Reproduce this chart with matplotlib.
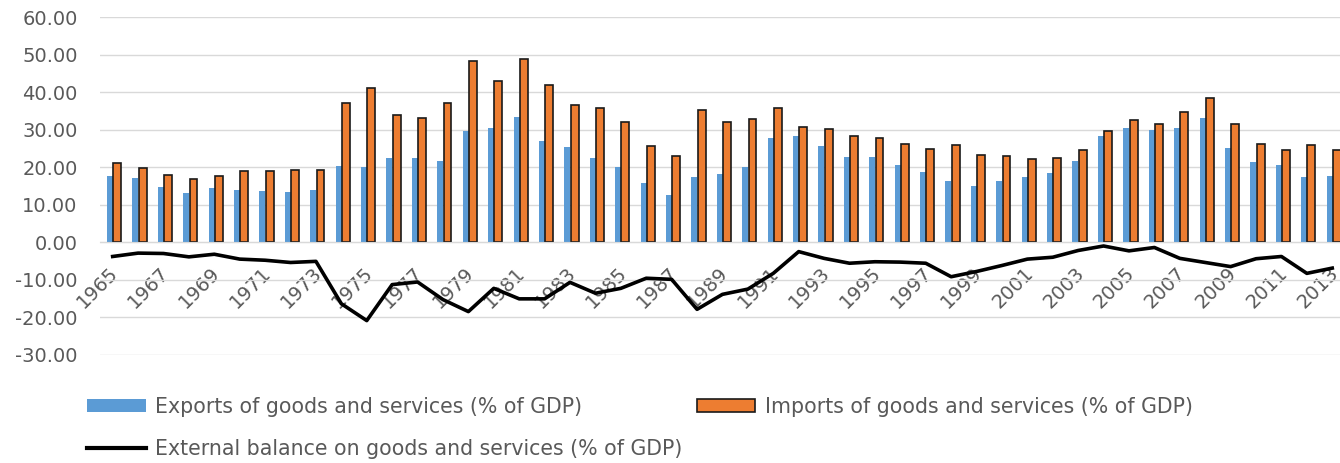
import numpy as np
from matplotlib import pyplot as plt
from matplotlib.patches import Patch
from matplotlib.lines import Line2D

years = list(range(1965, 2014))

exports = [17.8, 17.1, 14.8, 13.1, 14.4, 14.0, 13.7, 13.4, 14.0, 20.4,
           20.1, 22.4, 22.4, 21.8, 29.8, 30.4, 33.3, 27.0, 25.4, 22.4,
           20.1, 15.7, 12.7, 17.4, 18.1, 20.1, 27.7, 28.4, 25.7, 22.8,
           22.8, 20.7, 18.8, 16.4, 15.1, 16.4, 17.4, 18.4, 21.7, 28.4,
           30.4, 30.0, 30.4, 33.1, 25.1, 21.4, 20.7, 17.4, 17.8]

imports = [21.2, 19.9, 18.0, 16.9, 17.6, 18.9, 18.9, 19.3, 19.3, 37.2,
           41.2, 33.9, 33.2, 37.2, 48.3, 42.9, 48.9, 41.9, 36.5, 35.9,
           32.2, 25.6, 22.9, 35.3, 32.2, 32.9, 35.9, 30.8, 30.2, 28.3,
           27.9, 26.2, 24.9, 25.9, 23.2, 22.9, 22.2, 22.6, 24.5, 29.6,
           32.6, 31.6, 34.8, 38.6, 31.6, 26.2, 24.5, 25.9, 24.5]

balance = [-3.8, -2.9, -3.0, -3.9, -3.2, -4.5, -4.8, -5.4, -5.1, -16.4,
           -20.9, -11.3, -10.6, -15.3, -18.5, -12.3, -15.1, -15.1, -10.7, -13.6,
           -12.3, -9.6, -9.9, -17.9, -13.9, -12.5, -8.3, -2.5, -4.3, -5.6,
           -5.2, -5.3, -5.6, -9.2, -7.8, -6.2, -4.5, -4.0, -2.2, -1.0,
           -2.3, -1.4, -4.3, -5.4, -6.5, -4.4, -3.8, -8.3, -6.9]

blue = '#5B9BD5'
orange = '#ED7D31'
grey = '#595959'

plt.rcParams['axes.unicode_minus'] = False

fig = plt.figure(figsize=(13.4, 4.63), dpi=100)
ax = fig.add_axes([0.0746, 0.2339, 0.9291, 0.7287])

x = np.arange(len(years))
ax.bar(x - 0.224, exports, width=0.236, align='edge', color=blue, zorder=2)
ax.bar(x + 0.025, imports, width=0.31, align='edge', color=orange,
       edgecolor='#1a1a1a', linewidth=1.2, zorder=2)
ax.plot(x, balance, color='black', lw=2.6, zorder=3, solid_joinstyle='round')

ax.set_xlim(-0.5, len(years) - 0.5)
ax.set_ylim(-30, 60)
ax.set_yticks(np.arange(-30, 61, 10))
ax.set_yticklabels([f'{v:.2f}' for v in np.arange(-30, 61, 10)])
ax.yaxis.grid(True, color='#D9D9D9', lw=1)
ax.set_axisbelow(True)

for s in ['top', 'right', 'left']:
    ax.spines[s].set_visible(False)
ax.spines['bottom'].set_position(('data', 0))
ax.spines['bottom'].set_color('#D9D9D9')

ax.set_xticks(x[::2] - 0.15)
ax.set_xticklabels([str(y) for y in years[::2]], rotation=45, ha='right',
                   va='top', rotation_mode='anchor')
ax.tick_params(axis='x', length=0, pad=15, labelsize=14, labelcolor=grey)
ax.tick_params(axis='y', length=0, pad=16, labelsize=14, labelcolor=grey)

leg_kw = dict(frameon=False, handlelength=2.85, handleheight=0.6,
              handletextpad=0.45, borderpad=0, borderaxespad=0,
              loc='center left', prop={'family': 'DejaVu Sans', 'size': 14.8})
entries = [
    ('Exports of goods and services (% of GDP)', Patch(facecolor=blue), (0.065, 0.121)),
    ('Imports of goods and services (% of GDP)',
     Patch(facecolor=orange, edgecolor='#1a1a1a', linewidth=1.2), (0.520, 0.121)),
    ('External balance on goods and services (% of GDP)',
     Line2D([], [], color='black', lw=3), (0.065, 0.030)),
]
for text, handle, pos in entries:
    leg = fig.legend([handle], [text], bbox_to_anchor=pos, **leg_kw)
    for t in leg.get_texts():
        t.set_color(grey)

fig.savefig('out.png', dpi=100)
